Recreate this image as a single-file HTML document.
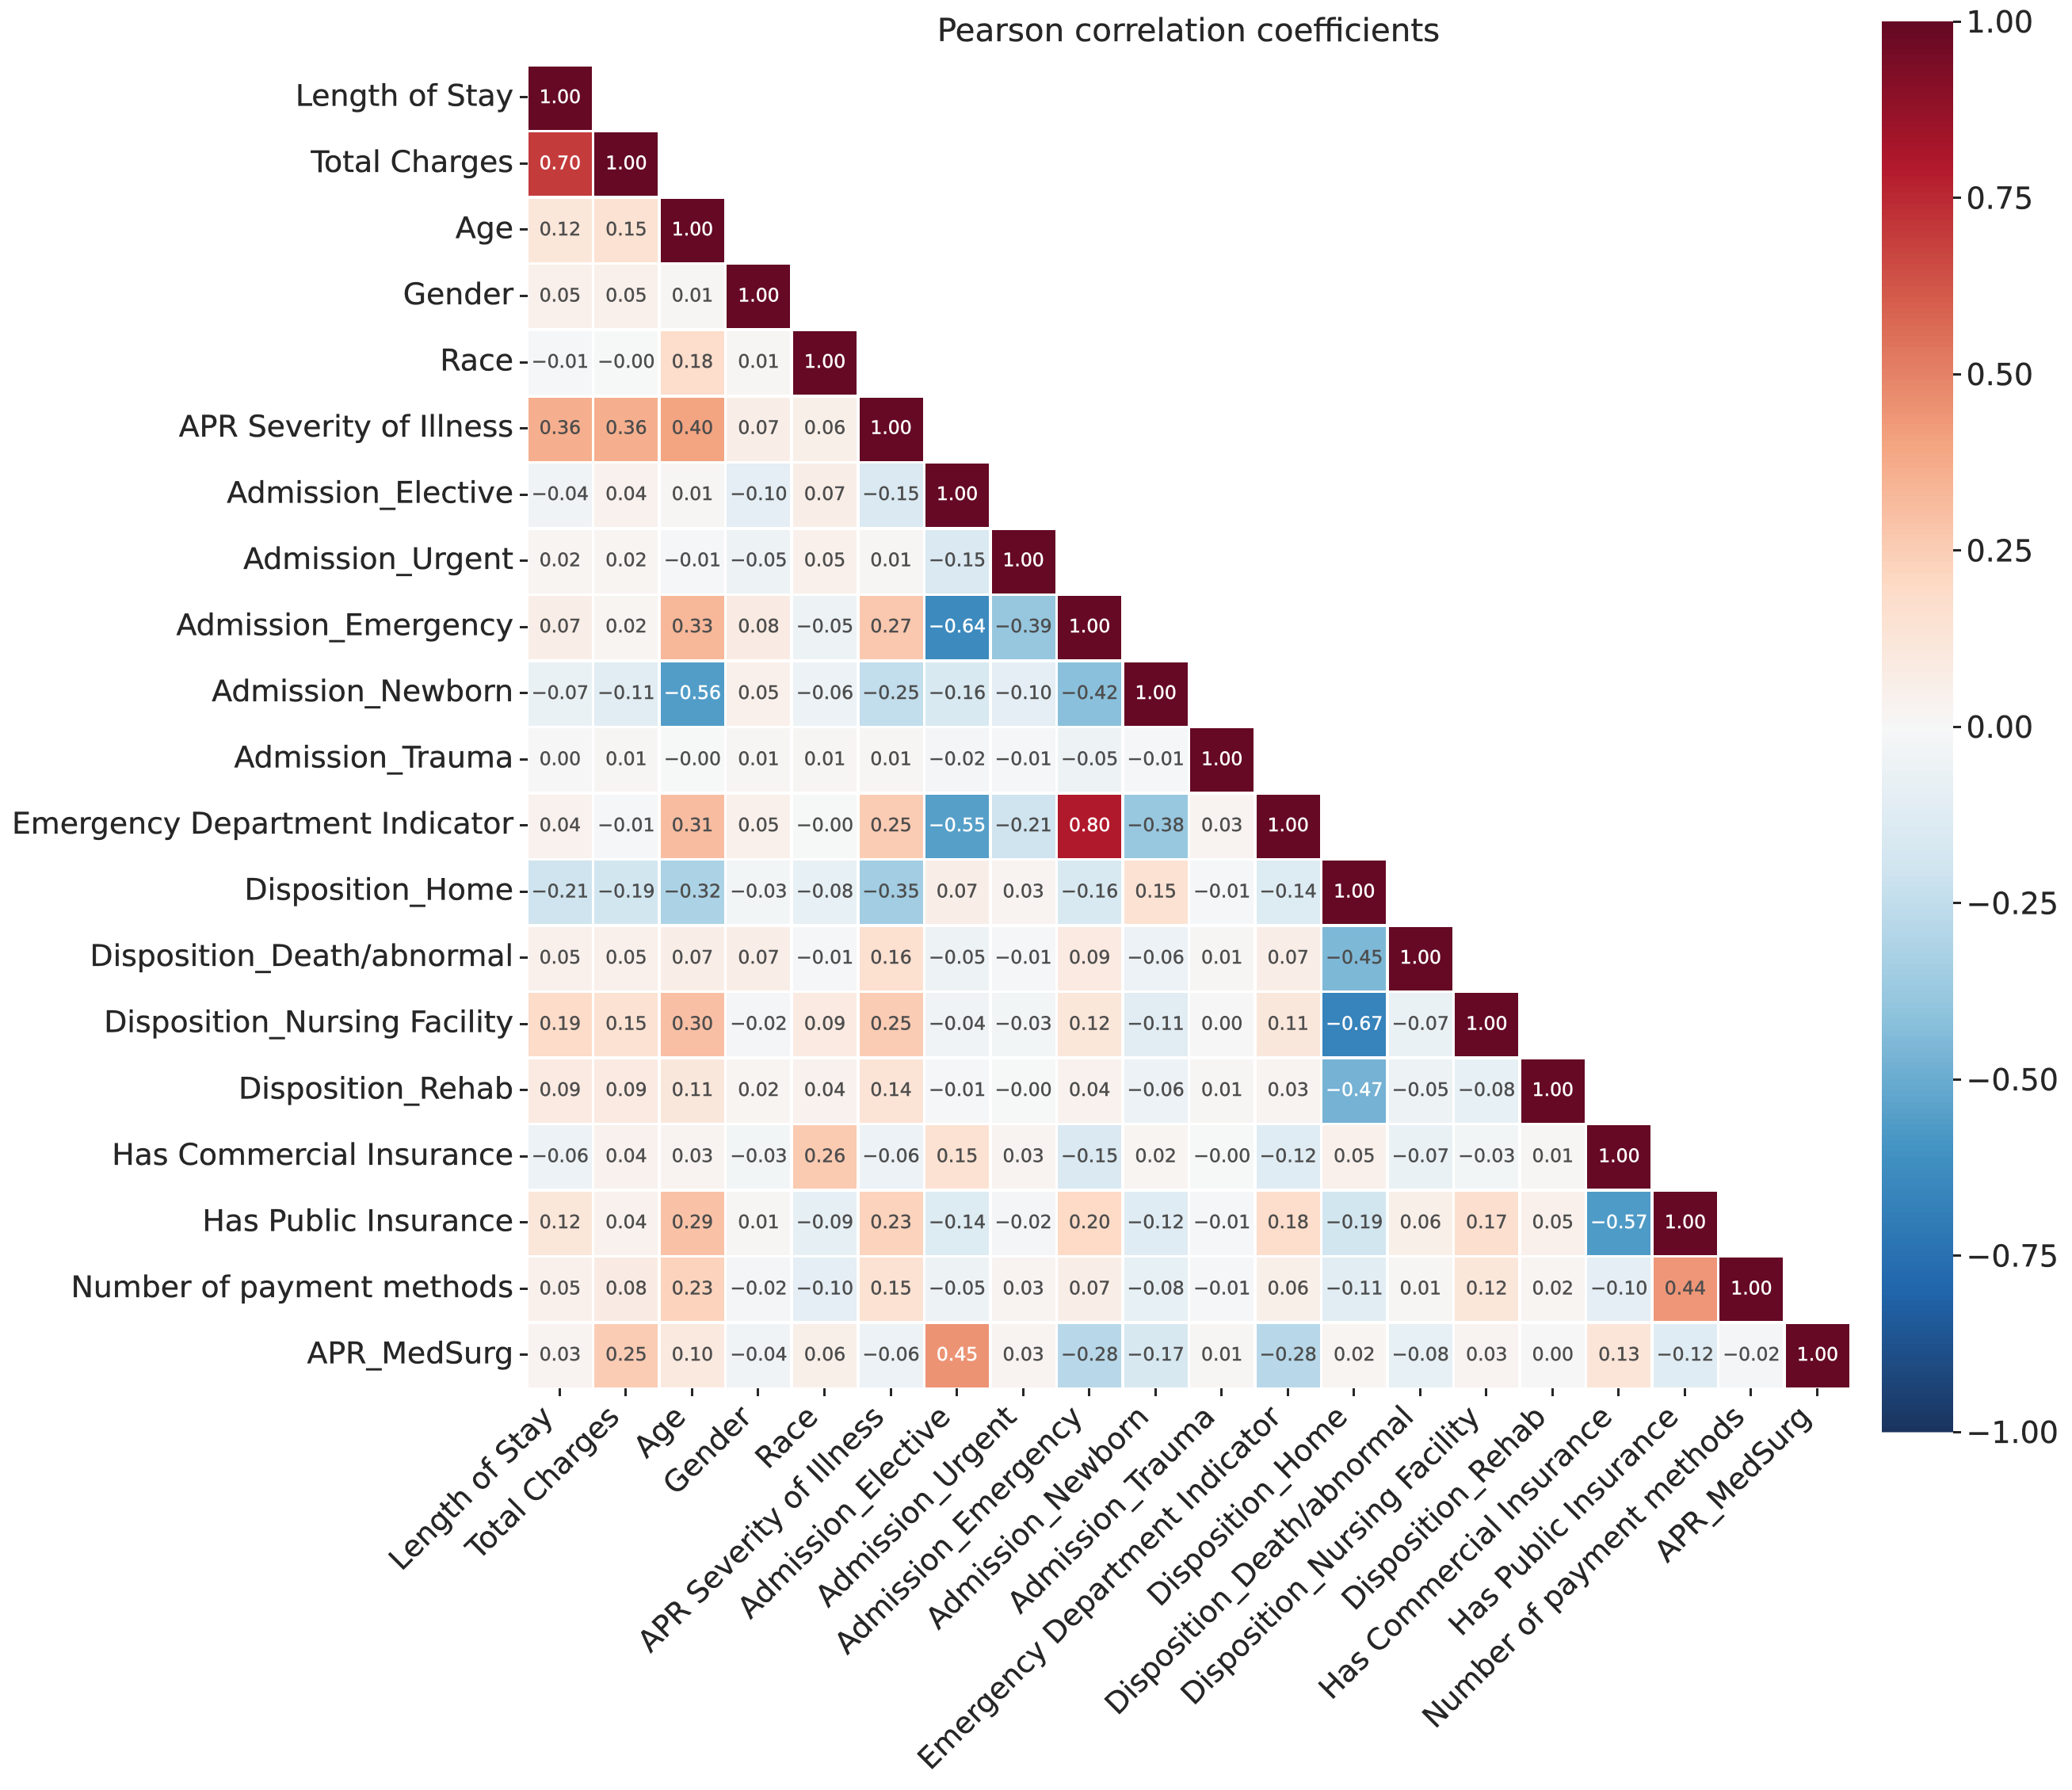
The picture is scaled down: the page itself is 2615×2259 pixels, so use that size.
<!DOCTYPE html>
<html lang="en">
<head>
<meta charset="utf-8">
<title>Pearson correlation coefficients</title>
<style>
  html, body { margin: 0; padding: 0; background: #ffffff; }
  svg { display: block; }
  text { font-family: "DejaVu Sans", "Liberation Sans", sans-serif; }
</style>
</head>
<body>
<svg id="chart" xmlns="http://www.w3.org/2000/svg" width="2615" height="2259" viewBox="0 0 2615 2259">
  <rect x="0" y="0" width="2615" height="2259" fill="#ffffff"></rect>
  <text x="1500" y="52" text-anchor="middle" font-size="40.4" fill="#262626" stroke="#262626" stroke-width="0.3">Pearson correlation coefficients</text>
  <g id="cells"></g>
  <g id="annotations"></g>
  <g id="y-axis"></g>
  <g id="x-axis"></g>
  <g id="colorbar"></g>
</svg>
<script>
const categories = [
  "Length of Stay", "Total Charges", "Age", "Gender", "Race",
  "APR Severity of Illness", "Admission_Elective", "Admission_Urgent",
  "Admission_Emergency", "Admission_Newborn", "Admission_Trauma",
  "Emergency Department Indicator", "Disposition_Home",
  "Disposition_Death/abnormal", "Disposition_Nursing Facility",
  "Disposition_Rehab", "Has Commercial Insurance", "Has Public Insurance",
  "Number of payment methods", "APR_MedSurg"
];

const correlationRows = [
  [1.00],
  [0.70, 1.00],
  [0.12, 0.15, 1.00],
  [0.05, 0.05, 0.01, 1.00],
  [-0.01, -0.004, 0.18, 0.01, 1.00],
  [0.36, 0.36, 0.40, 0.07, 0.06, 1.00],
  [-0.04, 0.04, 0.01, -0.10, 0.07, -0.15, 1.00],
  [0.02, 0.02, -0.01, -0.05, 0.05, 0.01, -0.15, 1.00],
  [0.07, 0.02, 0.33, 0.08, -0.05, 0.27, -0.64, -0.39, 1.00],
  [-0.07, -0.11, -0.56, 0.05, -0.06, -0.25, -0.16, -0.10, -0.42, 1.00],
  [0.00, 0.01, -0.004, 0.01, 0.01, 0.01, -0.02, -0.01, -0.05, -0.01, 1.00],
  [0.04, -0.01, 0.31, 0.05, -0.004, 0.25, -0.55, -0.21, 0.80, -0.38, 0.03, 1.00],
  [-0.21, -0.19, -0.32, -0.03, -0.08, -0.35, 0.07, 0.03, -0.16, 0.15, -0.01, -0.14, 1.00],
  [0.05, 0.05, 0.07, 0.07, -0.01, 0.16, -0.05, -0.01, 0.09, -0.06, 0.01, 0.07, -0.45, 1.00],
  [0.19, 0.15, 0.30, -0.02, 0.09, 0.25, -0.04, -0.03, 0.12, -0.11, 0.00, 0.11, -0.67, -0.07, 1.00],
  [0.09, 0.09, 0.11, 0.02, 0.04, 0.14, -0.01, -0.004, 0.04, -0.06, 0.01, 0.03, -0.47, -0.05, -0.08, 1.00],
  [-0.06, 0.04, 0.03, -0.03, 0.26, -0.06, 0.15, 0.03, -0.15, 0.02, -0.004, -0.12, 0.05, -0.07, -0.03, 0.01, 1.00],
  [0.12, 0.04, 0.29, 0.01, -0.09, 0.23, -0.14, -0.02, 0.20, -0.12, -0.01, 0.18, -0.19, 0.06, 0.17, 0.05, -0.57, 1.00],
  [0.05, 0.08, 0.23, -0.02, -0.10, 0.15, -0.05, 0.03, 0.07, -0.08, -0.01, 0.06, -0.11, 0.01, 0.12, 0.02, -0.10, 0.44, 1.00],
  [0.03, 0.25, 0.10, -0.04, 0.06, -0.06, 0.45, 0.03, -0.28, -0.17, 0.01, -0.28, 0.02, -0.08, 0.03, 0.00, 0.13, -0.12, -0.02, 1.00]
];

const colorbarTicks = [-1.00, -0.75, -0.50, -0.25, 0.00, 0.25, 0.50, 0.75, 1.00];

const SVG_NS = "http://www.w3.org/2000/svg";
const INK = "#262626";
const ANNOT_INK = "#4d4d4d";
const PALETTE = [
  [27, 52, 95], [33, 102, 172], [67, 147, 195], [146, 197, 222], [209, 229, 240],
  [247, 247, 247], [253, 219, 199], [244, 165, 130], [214, 96, 77], [178, 24, 43],
  [101, 9, 36]
];

function make(tag, attrs, parent) {
  const el = document.createElementNS(SVG_NS, tag);
  for (const key in attrs) el.setAttribute(key, attrs[key]);
  parent.appendChild(el);
  return el;
}

// Axis functions
const PITCH = 83.53;
function xCenter(i) { return 706.9 + PITCH * i; }
function yCenter(j) { return 123.9 + PITCH * j; }
function cellLeft(i) { return Math.round(666.9 + PITCH * i); }
function cellTop(j) { return Math.round(83.9 + PITCH * j); }
function colorbarY(v) { return 27 + (1 - v) / 2 * 1780; }

// Colour functions (RdBu_r, 256 levels, range -1..1)
function colorOf(v) {
  const idx = Math.min(255, Math.max(0, Math.floor((v + 1) / 2 * 256)));
  const pos = idx / 255 * (PALETTE.length - 1);
  const k = Math.min(PALETTE.length - 2, Math.floor(pos));
  const f = pos - k;
  return PALETTE[k].map(function (c, n) {
    return Math.round(c + (PALETTE[k + 1][n] - c) * f);
  });
}
function cssColor(rgb) { return "rgb(" + rgb.join(",") + ")"; }
function luminance(rgb) {
  const lin = rgb.map(function (c) {
    const s = c / 255;
    return s <= 0.03928 ? s / 12.92 : Math.pow((s + 0.055) / 1.055, 2.4);
  });
  return 0.2126 * lin[0] + 0.7152 * lin[1] + 0.0722 * lin[2];
}
function formatValue(v) { return v.toFixed(2).replace("-", "\u2212"); }

const cellsGroup = document.getElementById("cells");
const annotationsGroup = document.getElementById("annotations");
const yAxisGroup = document.getElementById("y-axis");
const xAxisGroup = document.getElementById("x-axis");
const colorbarGroup = document.getElementById("colorbar");

// Heatmap cells and annotations
correlationRows.forEach(function (row, j) {
  row.forEach(function (value, i) {
    const rgb = colorOf(value);
    const cell = make("rect", {
      x: cellLeft(i), y: cellTop(j), width: 80, height: 80,
      fill: cssColor(rgb), "shape-rendering": "crispEdges"
    }, cellsGroup);
    
    

    const annotInk = luminance(rgb) < 0.408 ? "#ffffff" : ANNOT_INK;
    const label = make("text", {
      x: xCenter(i), y: yCenter(j) + 6.1, "text-anchor": "middle", "font-size": 23.5,
      fill: annotInk, stroke: annotInk, "stroke-width": 0.45
    }, annotationsGroup);
    label.textContent = formatValue(value);
    
    
  });
});

// Y axis
categories.forEach(function (name, j) {
  const tick = make("rect", {
    x: 656, y: Math.round(yCenter(j) - 2.5), width: 10, height: 3,
    fill: INK, "shape-rendering": "crispEdges"
  }, yAxisGroup);
  
  

  const label = make("text", {
    x: 648, y: yCenter(j) + 9.4, "text-anchor": "end", "font-size": 37.8, fill: INK,
    stroke: INK, "stroke-width": 0.35
  }, yAxisGroup);
  label.textContent = name;
  
  
});

// X axis
categories.forEach(function (name, i) {
  const cx = xCenter(i) - 0.5;
  const tick = make("rect", {
    x: Math.round(cx - 1.5), y: 1752, width: 3, height: 10,
    fill: INK, "shape-rendering": "crispEdges"
  }, xAxisGroup);
  
  

  const fontSize = 37.6;
  const label = make("text", {
    x: 0, y: 0, "text-anchor": "start", "font-size": fontSize, fill: INK,
    stroke: INK, "stroke-width": 0.35
  }, xAxisGroup);
  label.textContent = name;
  
  
  // Right-top align the rotated bounding box under the tick
  const w = label.getComputedTextLength();
  const asc = 0.76 * fontSize, desc = 0.236 * fontSize, r = Math.SQRT1_2;
  const ox = cx - (w + desc) * r;
  const oy = 1770 + (w + asc) * r;
  label.setAttribute("transform", "translate(" + ox.toFixed(2) + "," + oy.toFixed(2) + ") rotate(-45)");
});

// Colorbar
for (let n = 0; n < 256; n++) {
  const low = -1 + n * 2 / 256;
  const high = -1 + (n + 1) * 2 / 256;
  const top = colorbarY(high);
  const band = make("rect", {
    x: 2375, y: top, width: 90, height: colorbarY(low) - top + 0.6,
    fill: cssColor(colorOf((low + high) / 2)), "shape-rendering": "crispEdges"
  }, colorbarGroup);
  
  
}
colorbarTicks.forEach(function (v) {
  const y = colorbarY(v);
  const tick = make("rect", {
    x: 2465, y: Math.round(y - 1.5), width: 10, height: 3,
    fill: INK, "shape-rendering": "crispEdges"
  }, colorbarGroup);
  
  

  const label = make("text", {
    x: 2481.5, y: y + 14, "font-size": 38, fill: INK, stroke: INK, "stroke-width": 0.3
  }, colorbarGroup);
  label.textContent = formatValue(v);
  
  
});
</script>
</body>
</html>
